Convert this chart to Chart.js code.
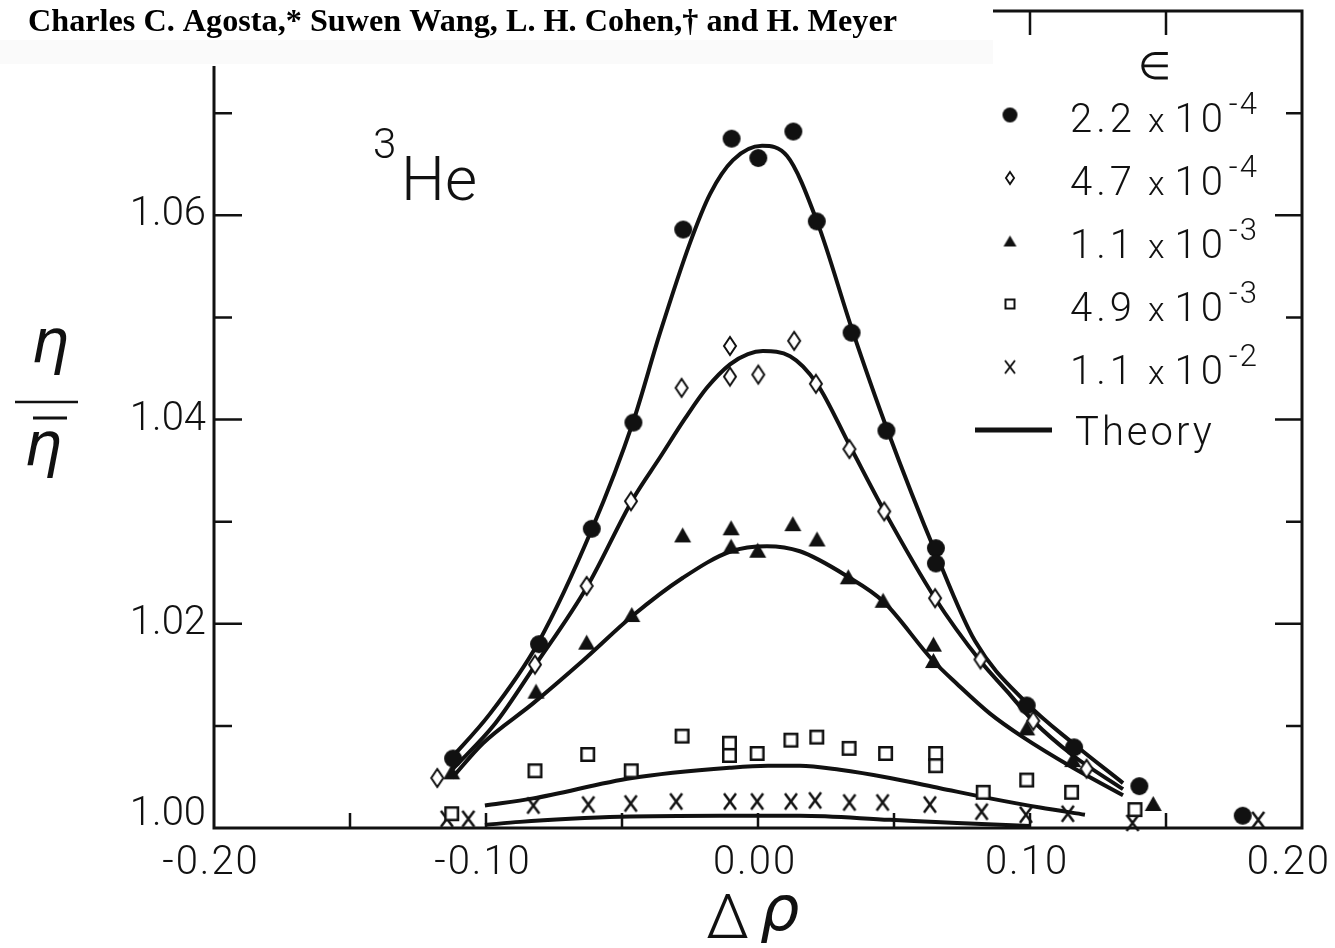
<!DOCTYPE html>
<html>
<head>
<meta charset="utf-8">
<script src="https://cdn.jsdelivr.net/npm/chart.js@4.4.0/dist/chart.umd.min.js"></script>
<style>
  html, body { margin: 0; padding: 0; background: #fff; }
  #wrap { position: relative; width: 1335px; height: 948px; }
</style>
</head>
<body>
<div id="wrap"><canvas id="chart" width="1335" height="948"></canvas></div>
<script>
// 3He viscosity ratio vs delta rho, one series per epsilon
var circleX  = [-0.1121, -0.0805, -0.0611, -0.0458, -0.0275, -0.0097, 0.0001, 0.0130, 0.0216, 0.0344, 0.0472, 0.0654, 0.0654, 0.0988, 0.1162, 0.1402, 0.1782];
var circleY  = [1.0068, 1.0180, 1.0293, 1.0397, 1.0586, 1.0675, 1.0656, 1.0682, 1.0594, 1.0485, 1.0389, 1.0274, 1.0259, 1.0120, 1.0079, 1.0041, 1.0012];

var diamondX = [-0.1179, -0.0820, -0.0630, -0.0467, -0.0281, -0.0103, -0.0103, 0.0001, 0.0133, 0.0213, 0.0336, 0.0464, 0.0651, 0.0818, 0.1012, 0.1208];
var diamondY = [1.0049, 1.0160, 1.0237, 1.0320, 1.0431, 1.0472, 1.0442, 1.0444, 1.0477, 1.0435, 1.0371, 1.0310, 1.0225, 1.0165, 1.0105, 1.0058];

var triX = [-0.1126, -0.0816, -0.0630, -0.0464, -0.0277, -0.0099, -0.0099, -0.0001, 0.0128, 0.0217, 0.0332, 0.0460, 0.0645, 0.0645, 0.0988, 0.1157, 0.1453];
var triY = [1.0055, 1.0134, 1.0182, 1.0209, 1.0287, 1.0294, 1.0276, 1.0272, 1.0298, 1.0283, 1.0246, 1.0223, 1.0180, 1.0164, 1.0098, 1.0067, 1.0024];

var squareX = [-0.1126, -0.0820, -0.0626, -0.0466, -0.0279, -0.0105, -0.0105, -0.0003, 0.0121, 0.0216, 0.0335, 0.0469, 0.0653, 0.0653, 0.0828, 0.0988, 0.1153, 0.1386];
var squareY = [1.0014, 1.0056, 1.0072, 1.0056, 1.0090, 1.0083, 1.0071, 1.0073, 1.0086, 1.0089, 1.0078, 1.0073, 1.0073, 1.0061, 1.0035, 1.0047, 1.0035, 1.0018];

var crossX = [-0.1144, -0.1065, -0.0826, -0.0624, -0.0468, -0.0301, -0.0103, -0.0003, 0.0121, 0.0210, 0.0336, 0.0458, 0.0632, 0.0822, 0.0985, 0.1139, 0.1377, 0.1839];
var crossY = [1.0009, 1.0009, 1.0022, 1.0023, 1.0024, 1.0026, 1.0026, 1.0026, 1.0026, 1.0027, 1.0025, 1.0025, 1.0023, 1.0016, 1.0013, 1.0014, 1.0005, 1.0008];

// theory curves
var theory1X = [-0.1143, -0.0985, -0.0809, -0.0610, -0.0460, -0.0360, -0.0250, -0.0176, -0.0092, 0.0015, 0.0107, 0.0217, 0.0346, 0.0474, 0.0654, 0.0798, 0.0989, 0.1158, 0.1342];
var theory1Y = [1.0064, 1.0112, 1.0181, 1.0293, 1.0397, 1.0485, 1.0573, 1.0621, 1.0654, 1.0668, 1.0658, 1.0594, 1.0488, 1.0391, 1.0269, 1.0183, 1.0122, 1.0083, 1.0044];
var theory2X = [-0.1125, -0.0967, -0.0820, -0.0629, -0.0460, -0.0360, -0.0268, -0.0188, -0.0103, -0.0037, 0.0018, 0.0118, 0.0217, 0.0338, 0.0463, 0.0651, 0.0816, 0.0915, 0.1011, 0.1158, 0.1342];
var theory2Y = [1.0057, 1.0102, 1.0159, 1.0236, 1.0322, 1.0363, 1.0401, 1.0431, 1.0454, 1.0464, 1.0467, 1.0462, 1.0435, 1.0374, 1.0311, 1.0225, 1.0164, 1.0134, 1.0105, 1.0071, 1.0038];
var theory3X = [-0.1125, -0.1011, -0.0827, -0.0643, -0.0460, -0.0276, -0.0099, 0.0033, 0.0154, 0.0331, 0.0460, 0.0643, 0.0732, 0.0853, 0.0974, 0.1158, 0.1342];
var theory3Y = [1.0049, 1.0083, 1.0122, 1.0164, 1.0208, 1.0245, 1.0271, 1.0276, 1.0271, 1.0246, 1.0222, 1.0164, 1.0141, 1.0112, 1.0089, 1.0059, 1.0032];
var theory4X = [-0.1004, -0.0827, -0.0463, -0.0103, 0.0037, 0.0154, 0.0301, 0.0485, 0.0669, 0.0853, 0.1037, 0.1202];
var theory4Y = [1.0022, 1.0029, 1.0049, 1.0059, 1.0061, 1.0061, 1.0057, 1.0049, 1.0039, 1.0029, 1.0020, 1.0013];
var theory5X = [-0.1004, -0.0875, -0.0691, -0.0507, -0.0140, 0.0154, 0.0485, 0.0732, 0.1000];
var theory5Y = [1.0003, 1.0006, 1.0009, 1.0011, 1.0012, 1.0012, 1.0008, 1.0005, 1.0002];

// legend text
var legendMantissa = ["2.2", "4.7", "1.1", "4.9", "1.1"];
var legendExponent = ["-4", "-4", "-3", "-3", "-2"];

// axes
var xTickValues = [-0.15, -0.10, -0.05, 0.00, 0.05, 0.10, 0.15];
var xLabelValues = [-0.20, -0.10, 0.00, 0.10, 0.20];
var xLabels = ["-0.20", "-0.10", "0.00", "0.10", "0.20"];
var yTickValues = [1.01, 1.02, 1.03, 1.04, 1.05, 1.06, 1.07];
var yLabelValues = [1.00, 1.02, 1.04, 1.06];
var yLabels = ["1.00", "1.02", "1.04", "1.06"];

var ink = "#111";
var thin = '300 40px "Roboto", "Liberation Sans", sans-serif';

function pairs(xs, ys) {
    return xs.map(function (x, i) { return { x: x, y: ys[i] }; });
}

function spacing(ctx, px) {
    if ("letterSpacing" in ctx) ctx.letterSpacing = px + "px";
}

// small canvases used as point styles
function makeMarker(kind, w, h, lw) {
    var c = document.createElement("canvas");
    c.width = w + 4; c.height = h + 4;
    var g = c.getContext("2d");
    var cx = c.width / 2, cy = c.height / 2;
    g.strokeStyle = ink; g.fillStyle = ink; g.lineWidth = lw;
    g.beginPath();
    if (kind === "circle") {
        g.ellipse(cx, cy, w / 2, h / 2, 0, 0, Math.PI * 2);
        g.fill();
    } else if (kind === "diamond") {
        g.moveTo(cx, 2 + lw / 2); g.lineTo(w + 2 - lw / 2, cy);
        g.lineTo(cx, h + 2 - lw / 2); g.lineTo(2 + lw / 2, cy); g.closePath();
        g.fillStyle = "#fff"; g.fill(); g.stroke();
    } else if (kind === "triangle") {
        g.moveTo(cx, 2); g.lineTo(w + 2, h + 2); g.lineTo(2, h + 2); g.closePath();
        g.fill();
    } else if (kind === "square") {
        g.rect(2 + lw / 2, 2 + lw / 2, w - lw, h - lw);
        g.fillStyle = "#fff"; g.fill(); g.stroke();
    } else if (kind === "cross") {
        g.moveTo(2, 2); g.lineTo(w + 2, h + 2);
        g.moveTo(w + 2, 2); g.lineTo(2, h + 2);
        g.stroke();
    }
    return c;
}

var markers = [
    makeMarker("circle", 18, 18, 0),
    makeMarker("diamond", 14, 20, 2),
    makeMarker("triangle", 17, 15, 0),
    makeMarker("square", 15, 15, 2.5),
    makeMarker("cross", 12, 16, 2.5)
];
var legendMarkers = [
    makeMarker("circle", 15, 15, 0),
    makeMarker("diamond", 10, 14, 1.8),
    makeMarker("triangle", 13, 11, 0),
    makeMarker("square", 11, 11, 2),
    makeMarker("cross", 10, 13, 2)
];

var pointSets = [[circleX, circleY], [diamondX, diamondY], [triX, triY], [squareX, squareY], [crossX, crossY]];
var theorySets = [[theory1X, theory1Y], [theory2X, theory2Y], [theory3X, theory3Y], [theory4X, theory4Y], [theory5X, theory5Y]];

var datasets = [];
theorySets.forEach(function (s) {
    datasets.push({
        data: pairs(s[0], s[1]),
        showLine: true,
        borderColor: ink,
        borderWidth: 4,
        pointRadius: 0,
        cubicInterpolationMode: "monotone",
        order: 2,
        clip: false
    });
});
pointSets.forEach(function (s, i) {
    datasets.push({
        data: pairs(s[0], s[1]),
        showLine: false,
        pointStyle: markers[i],
        pointRadius: 9,
        order: 1,
        clip: false
    });
});

var framePlugin = {
    id: "frame",
    afterDraw: function (chart) {
        var ctx = chart.ctx, xs = chart.scales.x, ys = chart.scales.y, a = chart.chartArea;
        ctx.save();
        ctx.strokeStyle = ink;
        ctx.fillStyle = ink;
        ctx.lineWidth = 3;
        ctx.strokeRect(a.left, a.top, a.right - a.left, a.bottom - a.top);

        // inward ticks
        ctx.lineWidth = 2.5;
        ctx.beginPath();
        yTickValues.forEach(function (v) {
            var py = ys.getPixelForValue(v);
            var major = yLabelValues.some(function (l) { return Math.abs(l - v) < 1e-6; });
            ctx.moveTo(a.left, py); ctx.lineTo(a.left + (major ? 28 : 18), py);
            ctx.moveTo(a.right, py); ctx.lineTo(a.right - (major ? 27 : 16), py);
        });
        xTickValues.forEach(function (v) {
            var px = xs.getPixelForValue(v);
            ctx.moveTo(px, a.bottom); ctx.lineTo(px, a.bottom - 15);
            ctx.moveTo(px, a.top); ctx.lineTo(px, a.top + 24);
        });
        ctx.stroke();

        // tick labels
        ctx.font = thin;
        ctx.textAlign = "right";
        ctx.textBaseline = "middle";
        yLabelValues.forEach(function (v, i) {
            var py = ys.getPixelForValue(v);
            if (i === 0) py -= 13;
            ctx.fillText(yLabels[i], a.left - 8, py);
        });
        ctx.textBaseline = "top";
        spacing(ctx, 2);
        xLabelValues.forEach(function (v, i) {
            var px = xs.getPixelForValue(v);
            if (i === xLabelValues.length - 1) {
                ctx.textAlign = "right";
                ctx.fillText(xLabels[i], 1331, a.bottom + 16);
            } else {
                ctx.textAlign = "center";
                ctx.fillText(xLabels[i], px - 3, a.bottom + 16);
            }
        });
        spacing(ctx, 0);

        // axis titles
        ctx.textAlign = "center";
        ctx.textBaseline = "alphabetic";
        ctx.font = 'italic 300 60px "DejaVu Sans", sans-serif';
        ctx.fillText("\u03b7", 50, 362);
        ctx.fillText("\u03b7", 43, 465);
        ctx.lineWidth = 2.5;
        ctx.beginPath();
        ctx.moveTo(15, 402); ctx.lineTo(78, 402);
        ctx.stroke();
        ctx.lineWidth = 3;
        ctx.beginPath();
        ctx.moveTo(33, 418); ctx.lineTo(67, 418);
        ctx.stroke();

        ctx.textAlign = "left";
        ctx.font = '300 62px "Roboto", sans-serif';
        ctx.fillText("\u0394", 706, 938);
        ctx.font = 'italic 300 62px "DejaVu Sans", sans-serif';
        ctx.fillText("\u03c1", 760, 930);

        // 3He
        ctx.font = '300 62px "Roboto", sans-serif';
        ctx.fillText("He", 401, 200);
        ctx.font = '300 42px "Roboto", sans-serif';
        ctx.fillText("3", 373, 158);

        // legend
        var lx = 1010, ly0 = 115, step = 63;
        ctx.font = '300 38px "DejaVu Sans", sans-serif';
        ctx.textAlign = "center";
        ctx.fillText("\u2208", 1154, 79);
        ctx.textAlign = "left";
        legendMantissa.forEach(function (m, i) {
            var cy = ly0 + i * step;
            var mk = legendMarkers[i];
            ctx.drawImage(mk, lx - mk.width / 2, cy - mk.height / 2);
            ctx.font = thin;
            spacing(ctx, 4);
            var tx = 1070;
            ctx.fillText(m, tx, cy + 17);
            var w = ctx.measureText(m).width;
            ctx.font = '300 34px "Roboto", sans-serif';
            spacing(ctx, 0);
            ctx.fillText("x", tx + w + 12, cy + 17);
            var wx = ctx.measureText("x").width;
            ctx.font = thin;
            spacing(ctx, 4);
            ctx.fillText("10", tx + w + wx + 22, cy + 17);
            var w10 = ctx.measureText("10").width;
            ctx.font = '300 31px "Roboto", sans-serif';
            spacing(ctx, 2);
            ctx.fillText(legendExponent[i], tx + w + wx + 24 + w10, cy - 1);
            spacing(ctx, 0);
        });
        var ty = ly0 + 5 * step;
        ctx.lineWidth = 5;
        ctx.beginPath();
        ctx.moveTo(975, ty); ctx.lineTo(1052, ty);
        ctx.stroke();
        ctx.font = thin;
        spacing(ctx, 3);
        ctx.fillText("Theory", 1075, ty + 15);
        spacing(ctx, 0);

        // header strip from the page above the figure
        ctx.fillStyle = "#fff";
        ctx.fillRect(0, 0, 993, 66);
        ctx.fillStyle = "rgba(0,0,0,0.018)";
        ctx.fillRect(0, 40, 993, 24);
        ctx.fillStyle = "#000";
        ctx.font = 'bold 31px "Liberation Serif", "Times New Roman", serif';
        ctx.textAlign = "left";
        var head = "Charles C. Agosta,* Suwen Wang, L. H. Cohen,\u2020 and H. Meyer";
        var hw = ctx.measureText(head).width;
        ctx.save();
        ctx.translate(28, 31);
        ctx.scale(869 / hw, 1);
        ctx.fillText(head, 0, 0);
        ctx.restore();

        ctx.restore();
    }
};

new Chart(document.getElementById("chart"), {
    type: "scatter",
    data: { datasets: datasets },
    options: {
        responsive: false,
        animation: false,
        devicePixelRatio: 1,
        layout: { padding: { left: 214, right: 33, top: 11, bottom: 120 } },
        plugins: { legend: { display: false }, tooltip: { enabled: false } },
        scales: {
            x: { type: "linear", min: -0.2, max: 0.2, display: false },
            y: { type: "linear", min: 1.0, max: 1.08, display: false }
        }
    },
    plugins: [framePlugin]
});
</script>
</body>
</html>
